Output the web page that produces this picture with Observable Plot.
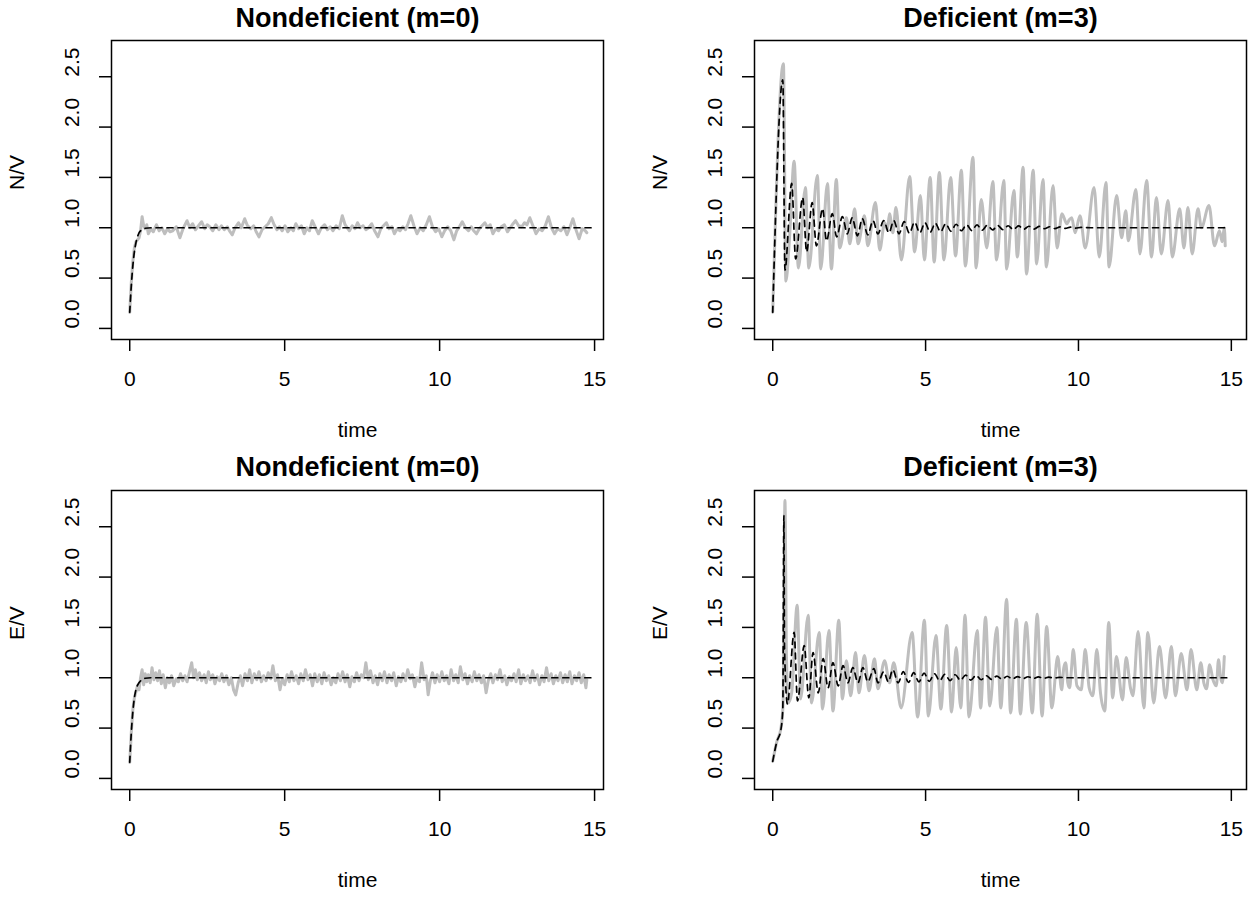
<!DOCTYPE html>
<html>
<head>
<meta charset="utf-8">
<script src="https://cdn.jsdelivr.net/npm/d3@7"></script>
<script src="https://cdn.jsdelivr.net/npm/@observablehq/plot@0.6"></script>
<style>
  body { margin: 0; background: #ffffff; }
  #wrap { position: relative; width: 1257px; height: 899px; background: #ffffff; }
  #wrap > div { position: absolute; }
  svg { overflow: visible; }
</style>
</head>
<body>
<div id="wrap"></div>
<script>
// ---------------- data ----------------
const titles = ["Nondeficient (m=0)", "Deficient (m=3)", "Nondeficient (m=0)", "Deficient (m=3)"];
const yLabels = ["N/V", "N/V", "E/V", "E/V"];
const xLabel = "time";
const xTicks = [0, 5, 10, 15];
const yTicks = [0, 0.5, 1, 1.5, 2, 2.5];
const yTickLabels = ["0.0", "0.5", "1.0", "1.5", "2.0", "2.5"];

// [time, value] — stochastic (grey) and deterministic (dashed) trajectories
const nondefN_sim = [[0,0.16],[0.05,0.45],[0.1,0.66],[0.15,0.8],[0.2,0.86],[0.25,0.88],[0.3,0.9],[0.35,0.97],[0.4,1.11],[0.45,1.02],[0.5,0.99],[0.55,1.03],[0.6,0.94],[0.68,0.99],[0.76,0.96],[0.86,1.03],[0.95,0.97],[1.04,1.0],[1.13,0.94],[1.22,0.99],[1.3,0.96],[1.39,0.97],[1.5,1.01],[1.62,0.9],[1.72,0.99],[1.85,1.07],[1.94,1.0],[2.03,1.04],[2.12,0.98],[2.22,1.02],[2.32,1.06],[2.42,0.99],[2.5,1.03],[2.58,1.01],[2.68,0.97],[2.78,1.03],[2.88,0.98],[2.96,1.02],[3.05,0.98],[3.15,1.01],[3.22,0.97],[3.31,0.93],[3.4,1.0],[3.51,1.05],[3.6,1.0],[3.71,1.09],[3.8,1.02],[3.91,0.99],[4.0,1.02],[4.08,0.96],[4.17,0.91],[4.27,0.98],[4.37,1.01],[4.47,1.04],[4.57,1.1],[4.66,1.03],[4.75,0.98],[4.83,1.01],[4.92,0.97],[5.01,1.02],[5.1,0.96],[5.2,1.0],[5.28,0.97],[5.36,1.04],[5.45,0.99],[5.54,1.02],[5.63,0.94],[5.72,1.0],[5.8,0.97],[5.89,1.07],[5.98,1.01],[6.09,0.94],[6.18,1.0],[6.29,1.03],[6.38,0.98],[6.47,1.01],[6.56,0.97],[6.66,1.02],[6.76,0.99],[6.86,1.12],[6.95,1.03],[7.02,1.0],[7.09,0.97],[7.18,1.02],[7.27,0.99],[7.35,1.05],[7.44,1.0],[7.53,1.02],[7.62,0.98],[7.71,1.0],[7.81,1.04],[7.9,0.97],[8.01,0.91],[8.1,0.99],[8.19,1.02],[8.28,1.05],[8.37,0.99],[8.46,1.01],[8.54,0.94],[8.63,0.99],[8.72,0.97],[8.81,1.01],[8.9,0.98],[8.98,1.04],[9.07,1.12],[9.17,1.02],[9.27,0.94],[9.37,1.0],[9.47,0.97],[9.57,1.03],[9.67,1.11],[9.77,1.01],[9.87,0.96],[9.97,0.99],[10.07,0.91],[10.16,0.97],[10.26,1.01],[10.36,0.97],[10.46,0.88],[10.55,0.97],[10.64,1.01],[10.73,1.06],[10.83,1.0],[10.93,0.97],[11.02,1.01],[11.1,0.97],[11.19,0.94],[11.28,0.99],[11.37,1.02],[11.46,1.05],[11.55,1.0],[11.63,1.03],[11.72,0.94],[11.81,0.99],[11.9,0.97],[11.99,1.01],[12.09,1.03],[12.19,0.96],[12.28,1.0],[12.37,1.04],[12.45,1.07],[12.55,1.02],[12.65,1.01],[12.74,1.05],[12.82,1.03],[12.91,1.1],[13.01,1.02],[13.11,0.94],[13.21,0.99],[13.31,0.97],[13.41,1.02],[13.51,1.11],[13.61,1.0],[13.71,0.94],[13.81,0.99],[13.91,0.97],[14.01,1.01],[14.11,0.93],[14.2,1.0],[14.3,1.09],[14.4,0.98],[14.5,0.89],[14.6,0.99],[14.7,0.97],[14.75,0.95]];
const nondefN_det = [[0,0.16],[0.05,0.42],[0.1,0.62],[0.15,0.76],[0.2,0.85],[0.25,0.91],[0.3,0.95],[0.4,0.98],[0.5,0.995],[0.7,1.0],[15,1.0]];

const defN_sim = [[0,0.16],[0.35,2.63],[0.43,0.47],[0.55,0.9],[0.7,1.66],[0.84,0.6],[1.07,1.4],[1.18,0.6],[1.46,1.52],[1.57,0.59],[1.79,1.44],[1.92,0.59],[2.08,1.48],[2.19,0.8],[2.41,1.1],[2.52,0.84],[2.68,1.19],[2.79,0.84],[3.0,1.12],[3.11,0.82],[3.36,1.25],[3.5,0.78],[3.66,1.05],[3.75,0.98],[3.82,1.14],[3.93,0.95],[4.03,1.2],[4.21,0.68],[4.48,1.51],[4.64,0.76],[4.83,1.32],[4.96,0.68],[5.15,1.5],[5.28,0.66],[5.45,1.55],[5.6,0.68],[5.82,1.5],[5.98,0.72],[6.17,1.57],[6.3,0.62],[6.55,1.7],[6.65,0.6],[6.82,1.28],[7.0,0.8],[7.2,1.46],[7.32,0.68],[7.56,1.47],[7.65,0.59],[7.89,1.37],[8.0,0.71],[8.19,1.6],[8.3,0.54],[8.52,1.57],[8.63,0.64],[8.84,1.48],[8.95,0.61],[9.17,1.42],[9.3,0.8],[9.46,1.14],[9.62,1.04],[9.7,1.08],[9.78,1.1],[9.89,0.95],[10.05,1.12],[10.22,0.8],[10.51,1.4],[10.68,0.71],[10.9,1.45],[11.0,0.61],[11.25,1.32],[11.41,0.9],[11.55,1.17],[11.63,0.87],[11.88,1.38],[12.01,0.74],[12.23,1.47],[12.39,0.71],[12.55,1.3],[12.71,0.74],[12.93,1.27],[13.07,0.71],[13.31,1.19],[13.45,0.8],[13.58,1.2],[13.72,0.74],[13.91,1.19],[14.02,1.0],[14.27,1.22],[14.45,0.82],[14.61,0.97],[14.7,0.86],[14.77,1.0],[14.8,0.82]];
const defN_det = [[0,0.16],[0.33,2.47],[0.4,0.58],[0.62,1.44],[0.75,0.69],[0.98,1.3],[1.11,0.76],[1.29,1.25],[1.43,0.82],[1.63,1.19],[1.76,0.87],[1.95,1.14],[2.09,0.91],[2.28,1.11],[2.44,0.94],[2.6,1.1],[2.77,0.92],[2.93,1.09],[3.11,0.93],[3.28,1.07],[3.44,0.94],[3.63,1.07],[3.8,0.95],[3.96,1.07],[4.13,0.94],[4.3,1.06],[4.47,0.945],[4.64,1.055],[4.81,0.95],[4.98,1.05],[5.15,0.955],[5.32,1.045],[5.49,0.96],[5.66,1.04],[5.83,0.965],[6.0,1.035],[6.17,0.97],[6.34,1.03],[6.51,0.972],[6.68,1.028],[6.85,0.975],[7.02,1.025],[7.19,0.978],[7.36,1.022],[7.53,0.98],[7.7,1.02],[7.87,0.982],[8.04,1.018],[8.21,0.985],[8.38,1.015],[8.55,0.987],[8.72,1.013],[8.89,0.99],[9.06,1.01],[9.23,0.992],[9.4,1.008],[9.57,0.994],[9.74,1.006],[9.91,0.996],[10.08,1.004],[10.4,1.0],[14.9,1.0]];

const nondefE_sim = [[0,0.16],[0.05,0.45],[0.1,0.68],[0.15,0.8],[0.2,0.86],[0.25,0.92],[0.3,0.88],[0.35,1.0],[0.4,1.08],[0.45,0.93],[0.5,1.04],[0.55,0.96],[0.6,1.03],[0.66,0.95],[0.72,1.1],[0.78,0.98],[0.84,1.05],[0.9,0.97],[0.96,1.07],[1.02,0.94],[1.08,1.03],[1.15,0.9],[1.21,1.0],[1.28,0.95],[1.35,1.02],[1.42,0.92],[1.5,0.99],[1.57,0.96],[1.64,1.04],[1.71,0.97],[1.78,1.02],[1.85,0.96],[1.93,1.06],[2.0,1.15],[2.06,1.0],[2.12,1.08],[2.18,0.98],[2.25,1.05],[2.32,0.97],[2.4,1.03],[2.47,0.95],[2.54,1.06],[2.6,0.98],[2.68,1.03],[2.75,0.94],[2.82,1.01],[2.9,0.97],[2.97,1.04],[3.04,0.96],[3.12,1.02],[3.2,0.93],[3.28,1.0],[3.35,0.88],[3.42,0.83],[3.5,0.95],[3.57,1.02],[3.64,0.92],[3.72,1.04],[3.8,0.97],[3.87,1.08],[3.94,0.95],[4.02,1.04],[4.1,0.98],[4.17,1.06],[4.25,0.96],[4.32,1.02],[4.4,0.97],[4.47,1.05],[4.55,0.99],[4.62,1.12],[4.7,0.97],[4.77,1.03],[4.85,0.88],[4.92,0.99],[5.0,0.93],[5.08,1.03],[5.15,0.96],[5.22,1.06],[5.3,0.97],[5.37,1.02],[5.45,0.94],[5.52,1.04],[5.6,0.97],[5.67,1.08],[5.75,0.98],[5.82,1.03],[5.9,0.92],[5.97,1.04],[6.05,0.96],[6.12,1.03],[6.2,0.94],[6.27,1.05],[6.35,0.97],[6.42,1.02],[6.5,0.93],[6.57,1.0],[6.65,0.95],[6.72,1.04],[6.8,0.97],[6.87,1.06],[6.95,0.96],[7.02,1.03],[7.1,0.91],[7.17,1.01],[7.25,0.96],[7.32,1.05],[7.4,0.97],[7.47,1.03],[7.55,1.0],[7.62,1.15],[7.7,0.98],[7.77,1.07],[7.85,0.95],[7.92,1.02],[8.0,0.93],[8.07,1.04],[8.15,0.97],[8.22,1.06],[8.3,0.95],[8.37,1.03],[8.45,0.97],[8.52,1.05],[8.6,0.92],[8.67,1.01],[8.75,0.96],[8.82,1.04],[8.9,0.97],[8.97,1.08],[9.05,0.99],[9.12,1.03],[9.2,0.91],[9.27,1.0],[9.35,0.96],[9.42,1.15],[9.5,0.98],[9.57,1.02],[9.63,0.83],[9.7,0.97],[9.77,1.05],[9.85,0.95],[9.92,1.03],[10.0,0.96],[10.07,1.06],[10.15,0.97],[10.22,1.02],[10.3,0.94],[10.37,1.08],[10.45,0.97],[10.52,1.03],[10.6,0.95],[10.67,1.11],[10.75,0.98],[10.82,1.04],[10.9,0.94],[10.97,1.02],[11.05,0.96],[11.12,1.06],[11.2,0.97],[11.27,1.03],[11.35,0.95],[11.42,1.02],[11.5,0.85],[11.57,0.97],[11.65,1.04],[11.72,0.95],[11.8,1.03],[11.87,0.98],[11.95,1.08],[12.02,0.96],[12.1,1.02],[12.17,0.93],[12.25,1.01],[12.32,0.97],[12.4,1.04],[12.47,0.96],[12.55,1.08],[12.62,0.94],[12.7,1.03],[12.77,0.97],[12.85,1.02],[12.92,0.95],[13.0,1.07],[13.07,0.97],[13.15,1.03],[13.22,0.93],[13.3,1.02],[13.37,0.96],[13.45,1.1],[13.52,0.97],[13.6,1.04],[13.67,0.94],[13.75,1.02],[13.82,0.97],[13.9,1.05],[13.97,0.95],[14.05,1.03],[14.12,0.96],[14.2,1.06],[14.27,0.94],[14.35,1.02],[14.42,0.97],[14.5,1.05],[14.57,0.95],[14.65,1.03],[14.72,0.9],[14.75,0.98]];
const nondefE_det = [[0,0.16],[0.05,0.45],[0.1,0.66],[0.15,0.8],[0.2,0.88],[0.3,0.95],[0.4,0.98],[0.5,0.995],[0.7,1.0],[15,1.0]];

const defE_sim = [[0,0.17],[0.13,0.36],[0.27,0.5],[0.34,0.75],[0.4,2.76],[0.45,1.2],[0.51,0.75],[0.62,0.85],[0.8,1.72],[0.91,0.79],[1.16,1.62],[1.27,0.75],[1.52,1.45],[1.63,0.69],[1.84,1.47],[1.97,0.67],[2.16,1.57],[2.28,0.79],[2.41,1.17],[2.55,0.82],[2.71,1.25],[2.82,0.85],[3.0,1.22],[3.15,0.87],[3.33,1.19],[3.44,0.89],[3.66,1.17],[3.82,0.95],[3.96,1.15],[4.2,0.7],[4.56,1.45],[4.74,0.61],[4.96,1.57],[5.09,0.62],[5.34,1.42],[5.5,0.69],[5.69,1.52],[5.85,0.66],[6.0,1.3],[6.15,0.7],[6.29,1.62],[6.42,0.61],[6.69,1.47],[6.8,0.7],[6.96,1.6],[7.1,0.72],[7.33,1.5],[7.46,0.7],[7.65,1.78],[7.78,0.65],[7.97,1.58],[8.1,0.64],[8.29,1.55],[8.49,0.65],[8.65,1.63],[8.81,0.62],[8.96,1.51],[9.13,0.7],[9.32,1.21],[9.45,0.88],[9.52,1.1],[9.58,1.15],[9.65,0.95],[9.71,0.9],[9.77,1.08],[9.83,1.28],[9.95,0.92],[10.09,0.88],[10.15,1.05],[10.22,1.28],[10.35,0.9],[10.47,0.82],[10.6,1.28],[10.72,0.85],[10.86,0.67],[10.99,1.55],[11.12,0.8],[11.24,1.21],[11.44,0.78],[11.56,1.2],[11.7,0.9],[11.78,0.82],[11.95,1.46],[12.14,0.7],[12.27,1.45],[12.46,0.75],[12.65,1.31],[12.85,0.8],[13.04,1.31],[13.17,0.82],[13.36,1.24],[13.55,0.88],[13.68,1.28],[13.87,0.88],[14.0,1.15],[14.1,0.95],[14.19,0.89],[14.29,1.13],[14.4,0.98],[14.51,0.92],[14.58,1.18],[14.65,1.0],[14.71,0.95],[14.77,1.21]];
const defE_det = [[0,0.17],[0.13,0.36],[0.27,0.49],[0.33,0.69],[0.365,2.61],[0.385,1.3],[0.48,0.74],[0.7,1.45],[0.81,0.77],[1.03,1.32],[1.18,0.8],[1.32,1.25],[1.49,0.85],[1.65,1.19],[1.81,0.9],[1.97,1.15],[2.14,0.92],[2.3,1.12],[2.46,0.95],[2.62,1.1],[2.79,0.95],[2.95,1.1],[3.11,0.96],[3.31,1.09],[3.44,0.95],[3.63,1.06],[3.78,0.96],[3.93,1.08],[4.1,0.95],[4.27,1.06],[4.44,0.955],[4.61,1.05],[4.78,0.96],[4.95,1.045],[5.12,0.965],[5.29,1.04],[5.46,0.97],[5.63,1.035],[5.8,0.972],[5.97,1.03],[6.14,0.975],[6.31,1.027],[6.48,0.977],[6.65,1.024],[6.82,0.98],[6.99,1.02],[7.16,0.983],[7.33,1.017],[7.5,0.985],[7.67,1.015],[7.84,0.988],[8.01,1.012],[8.18,0.99],[8.35,1.01],[8.52,0.992],[8.69,1.008],[8.86,0.994],[9.03,1.006],[9.2,0.996],[9.37,1.004],[9.6,1.0],[14.85,1.0]];

// ---------------- layout ----------------
const FONT = "'Liberation Sans', Arial, Helvetica, sans-serif";
const Y_DOMAIN = [-0.11, 2.86];

const panels = [
  {sim: nondefN_sim, det: nondefN_det, curve: "linear",     left: 0,   top: 0,   w: 628, h: 450, mL: 111, mR: 25, mT: 40, mB: 111, xDomain: [-0.588, 15.288]},
  {sim: defN_sim,    det: defN_det,    curve: "monotone-x", left: 628, top: 0,   w: 629, h: 450, mL: 126, mR: 11, mT: 40, mB: 111, xDomain: [-0.596, 15.496]},
  {sim: nondefE_sim, det: nondefE_det, curve: "linear",     left: 0,   top: 449, w: 628, h: 450, mL: 111, mR: 25, mT: 41, mB: 110, xDomain: [-0.588, 15.288]},
  {sim: defE_sim,    det: defE_det,    curve: "monotone-x", left: 628, top: 449, w: 629, h: 450, mL: 126, mR: 11, mT: 41, mB: 110, xDomain: [-0.596, 15.496]}
];

const wrap = document.getElementById("wrap");

panels.forEach((p, i) => {
  const chart = Plot.plot({
    width: p.w,
    height: p.h,
    marginLeft: p.mL,
    marginRight: p.mR,
    marginTop: p.mT,
    marginBottom: p.mB,
    style: {fontFamily: FONT, background: "transparent", color: "black", overflow: "visible"},
    x: {domain: p.xDomain, axis: null},
    y: {domain: Y_DOMAIN, axis: null},
    marks: [
      Plot.line(p.sim, {x: d => d[0], y: d => d[1], stroke: "#bebebe", strokeWidth: 3, curve: p.curve, clip: true}),
      Plot.line(p.det, {x: d => d[0], y: d => d[1], stroke: "black", strokeWidth: 1.7, strokeDasharray: "6,5", curve: "monotone-x"}),
      Plot.frame({stroke: "black", strokeWidth: 1.5}),
      Plot.axisX({ticks: xTicks, tickSize: 12, tickFormat: () => "", strokeWidth: 1.5, label: null}),
      Plot.axisY({ticks: yTicks, tickSize: 12, tickFormat: () => "", strokeWidth: 1.5, label: null}),
      Plot.text(xTicks, {x: d => d, frameAnchor: "bottom", lineAnchor: "middle", dy: 40, text: d => String(d), fontSize: 21, fill: "black"}),
      Plot.text(yTicks, {y: d => d, frameAnchor: "left", dx: -39, rotate: -90, text: (d, k) => yTickLabels[k], fontSize: 21, fill: "black"}),
      Plot.text([xLabel], {frameAnchor: "bottom", lineAnchor: "middle", dy: 91, text: d => d, fontSize: 21, fill: "black"}),
      Plot.text([yLabels[i]], {frameAnchor: "left", dx: -94, rotate: -90, text: d => d, fontSize: 21, fill: "black"}),
      Plot.text([titles[i]], {frameAnchor: "top", lineAnchor: "middle", dy: -(p.mT - 18), text: d => d, fontSize: 27, fontWeight: "bold", fill: "black"})
    ]
  });
  const holder = document.createElement("div");
  holder.style.left = p.left + "px";
  holder.style.top = p.top + "px";
  holder.appendChild(chart);
  wrap.appendChild(holder);
});
</script>
</body>
</html>
